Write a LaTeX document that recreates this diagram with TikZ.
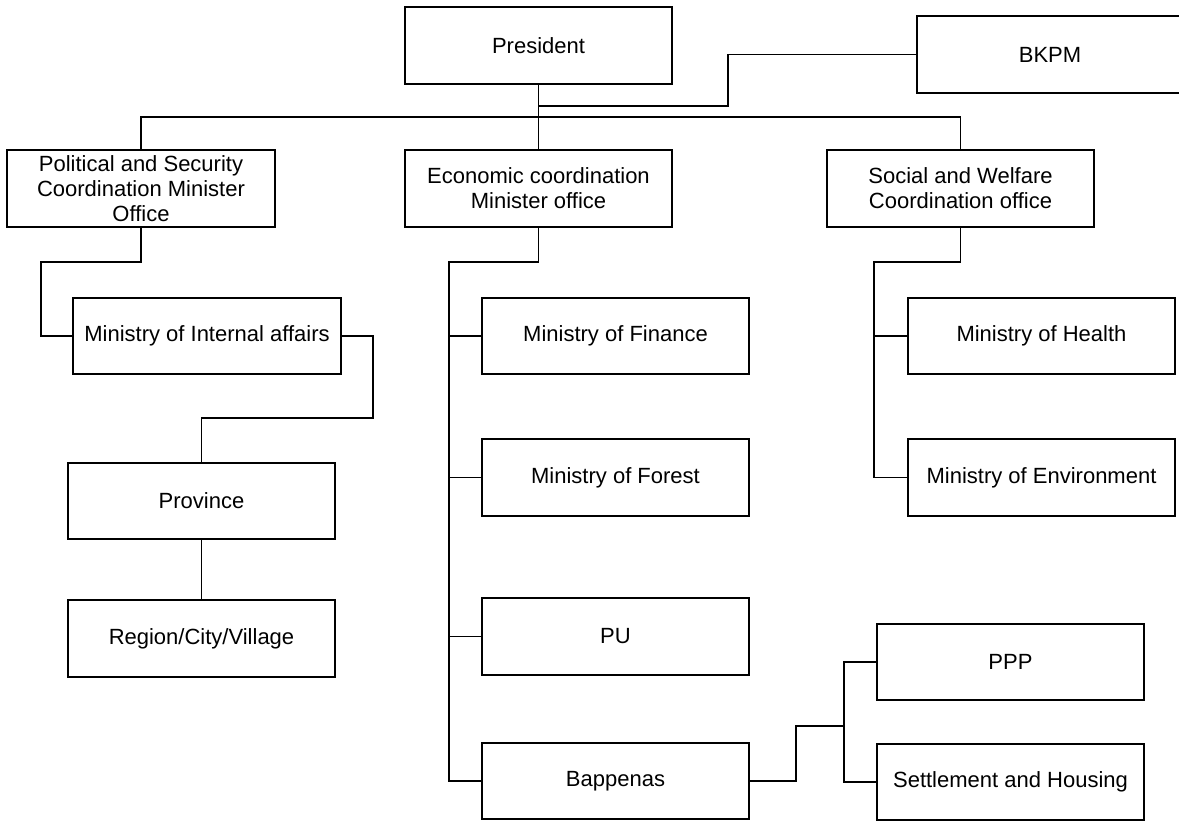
\documentclass[tikz,border=0pt]{standalone}
\usepackage{fontspec}
\setmainfont{Liberation Sans}
\tikzset{
    orgbox/.style={draw, fill=white, minimum width=267pt, minimum height=77pt, inner sep=0pt, align=center, font=\fontsize{22}{25}\selectfont},
    link/.style={draw}
}
\begin{document}
\begin{tikzpicture}[x=1pt, y=-1pt, line width=1.2pt]
        \useasboundingbox (0, 0) rectangle (1179, 821);
        % ---top
        \node[orgbox] (pres) at (538.5, 45.5) {President};
        \node[orgbox, minimum width=280pt] (bkpm) at (1057, 54.5) {\hspace*{-14pt}BKPM};
        
        % ---coordination offices
        \node[orgbox, minimum width=268pt] (pol) at (141, 188.5) {Political and Security\\Coordination Minister\\Office};
        \node[orgbox] (eco) at (538.5, 188.5) {Economic coordination\\Minister office};
        \node[orgbox] (soc) at (960.5, 188.5) {Social and Welfare\\Coordination office};
        
        % ---ministries
        \node[orgbox, minimum width=268pt, minimum height=76pt] (internal) at (207, 336) {Ministry of Internal affairs};
        \node[orgbox, minimum height=76pt] (prov) at (201.5, 501) {Province};
        \node[orgbox] (region) at (201.5, 638.5) {Region/City/Village};
        
        \node[orgbox, minimum height=76pt] (fin) at (615.5, 336) {Ministry of Finance};
        \node[orgbox] (forest) at (615.5, 477.5) {Ministry of Forest};
        \node[orgbox] (pu) at (615.5, 636.5) {PU};
        \node[orgbox, minimum height=76pt] (bap) at (615.5, 781) {Bappenas};
        
        \node[orgbox, minimum height=76pt] (health) at (1041.5, 336) {Ministry of Health};
        \node[orgbox] (env) at (1041.5, 477.5) {Ministry of Environment};
        
        \node[orgbox, minimum height=76pt] (ppp) at (1010.5, 662) {PPP};
        \node[orgbox, minimum height=76pt] (settle) at (1010.5, 782) {Settlement and Housing};
        
        % ---lines
        \coordinate (bus) at (538.5, 117);
        \coordinate (kink) at (728, 106);
        \draw[link] (pres.south) -- (eco.north);
        \draw[link] (pol.north) |- (bus) -| (soc.north);
        \draw[link] (pres.south |- kink) -- (kink) |- (bkpm.west);
        
        \coordinate (polL) at (41, 262);
        \coordinate (intR) at (373, 418);
        \draw[link] (pol.south) |- (polL) |- (internal.west);
        \draw[link] (internal.east) -| (intR) -| (prov.north);
        \draw[link] (prov.south) -- (region.north);
        
        \coordinate (ecoL) at (449, 262);
        \draw[link] (eco.south) |- (ecoL) |- (bap.west);
        \draw[link] (ecoL |- fin.west) -- (fin.west);
        \draw[link] (ecoL |- forest.west) -- (forest.west);
        \draw[link] (ecoL |- pu.west) -- (pu.west);
        
        \coordinate (socL) at (874, 262);
        \draw[link] (soc.south) |- (socL) |- (env.west);
        \draw[link] (socL |- health.west) -- (health.west);
        
        \coordinate (bapR) at (796, 726);
        \coordinate (bapM) at (844, 726);
        \draw[link] (bap.east) -| (bapR) -- (bapM);
        \draw[link] (ppp.west) -| (bapM) |- (settle.west);
        
    \end{tikzpicture}
\end{document}
